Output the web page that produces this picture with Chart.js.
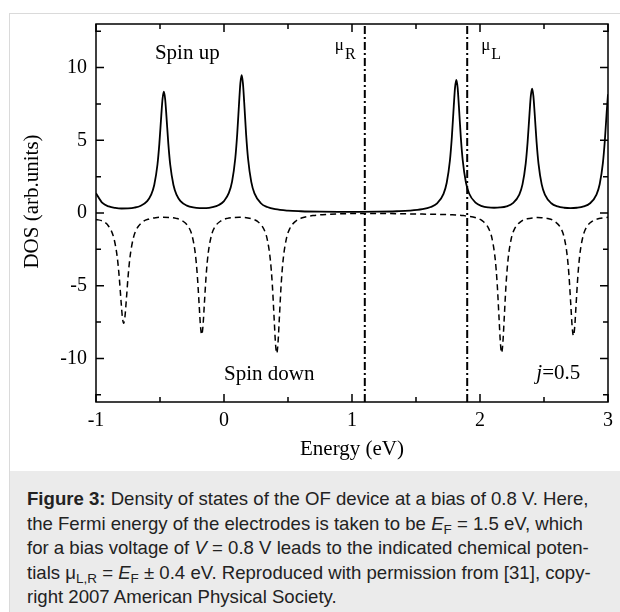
<!DOCTYPE html>
<html>
<head>
<meta charset="utf-8">
<script src="https://cdn.jsdelivr.net/npm/chart.js@4.4.1/dist/chart.umd.min.js"></script>
<style>
  html, body { margin: 0; padding: 0; background: #fff; }
  body { width: 620px; height: 612px; position: relative; overflow: hidden; }
  #frame { position: absolute; left: 9px; top: 13px; width: 640px; height: 640px;
           border-top: 1px solid #dadada; border-left: 1px solid #dadada; }
  #plot { position: absolute; left: 0; top: 0; width: 620px; height: 470px; }
  #caption { position: absolute; left: 10px; top: 471px; width: 610px; height: 141px;
             box-sizing: border-box; padding: 16px 0 0 17px; background: #ebebeb;
             font-family: Arial, "Liberation Sans", sans-serif; font-size: 18.6px;
             line-height: 24.5px; color: #222; white-space: nowrap; }
  #caption sub { font-size: 13.5px; vertical-align: -4px; line-height: 0; }
</style>
</head>
<body>
<div id="frame"></div>
<div id="plot"><canvas id="dos"></canvas></div>
<div id="caption"><b>Figure 3:</b> Density of states of the OF device at a bias of 0.8 V. Here,<br>the Fermi energy of the electrodes is taken to be <i>E</i><sub>F</sub> = 1.5 eV, which<br>for a bias voltage of <i>V</i> = 0.8 V leads to the indicated chemical poten-<br>tials μ<sub>L,R</sub> = <i>E</i><sub>F</sub> ± 0.4 eV. Reproduced with permission from [31], copy-<br>right 2007 American Physical Society.</div>
<script>
// spin-up DOS (solid curve)
const upEnergy = [-1.00, -0.95, -0.90, -0.85, -0.80, -0.75, -0.70, -0.65, -0.60, -0.57,
  -0.545, -0.52, -0.505, -0.49, -0.48, -0.47, -0.46, -0.45, -0.435, -0.42,
  -0.395, -0.37, -0.34, -0.29, -0.24, -0.19, -0.14, -0.09, -0.04, 0.00,
  0.038, 0.063, 0.088, 0.103, 0.118, 0.128, 0.138, 0.148, 0.158, 0.173,
  0.188, 0.213, 0.238, 0.288, 0.338, 0.40, 0.50, 0.60, 0.75, 0.90,
  1.05, 1.20, 1.35, 1.45, 1.55, 1.615, 1.665, 1.715, 1.74, 1.765,
  1.78, 1.795, 1.805, 1.815, 1.825, 1.835, 1.85, 1.865, 1.89, 1.915,
  1.965, 2.015, 2.065, 2.11, 2.157, 2.207, 2.257, 2.307, 2.332, 2.357,
  2.372, 2.387, 2.397, 2.407, 2.417, 2.427, 2.442, 2.457, 2.482, 2.507,
  2.557, 2.607, 2.657, 2.707, 2.757, 2.81, 2.86, 2.91, 2.935, 2.96,
  2.975, 2.99, 3.00];
const upDos = [1.36, 0.69, 0.45, 0.35, 0.31, 0.32, 0.37, 0.50, 0.82, 1.24,
  1.93, 3.32, 4.77, 6.70, 7.86, 8.35, 7.86, 6.70, 4.77, 3.32,
  1.93, 1.24, 0.82, 0.51, 0.38, 0.34, 0.34, 0.40, 0.55, 0.82,
  1.38, 2.16, 3.75, 5.40, 7.60, 8.93, 9.48, 8.91, 7.58, 5.38,
  3.73, 2.14, 1.35, 0.67, 0.41, 0.26, 0.16, 0.12, 0.09, 0.08,
  0.08, 0.09, 0.12, 0.16, 0.26, 0.41, 0.66, 1.32, 2.08, 3.61,
  5.21, 7.34, 8.62, 9.16, 8.64, 7.36, 5.23, 3.63, 2.10, 1.34,
  0.71, 0.47, 0.38, 0.36, 0.38, 0.46, 0.68, 1.27, 1.97, 3.40,
  4.88, 6.86, 8.05, 8.55, 8.05, 6.86, 4.88, 3.40, 1.97, 1.27,
  0.67, 0.45, 0.36, 0.33, 0.36, 0.45, 0.67, 1.27, 1.98, 3.43,
  4.95, 6.96, 8.17];

// spin-down DOS (dashed curve, plotted negative)
const downEnergy = [-1.00, -0.95, -0.90, -0.86, -0.834, -0.819, -0.804, -0.794, -0.784, -0.774,
  -0.764, -0.749, -0.734, -0.709, -0.684, -0.634, -0.584, -0.534, -0.479, -0.424,
  -0.374, -0.324, -0.274, -0.249, -0.224, -0.209, -0.194, -0.184, -0.174, -0.164,
  -0.154, -0.139, -0.124, -0.099, -0.074, -0.024, 0.026, 0.076, 0.119, 0.162,
  0.212, 0.262, 0.312, 0.337, 0.362, 0.377, 0.392, 0.402, 0.412, 0.422,
  0.432, 0.447, 0.462, 0.487, 0.512, 0.562, 0.612, 0.70, 0.82, 0.95,
  1.10, 1.30, 1.50, 1.65, 1.77, 1.87, 1.969, 2.019, 2.069, 2.094,
  2.119, 2.134, 2.149, 2.159, 2.169, 2.179, 2.189, 2.204, 2.219, 2.244,
  2.269, 2.319, 2.369, 2.419, 2.45, 2.48, 2.53, 2.58, 2.63, 2.655,
  2.68, 2.695, 2.71, 2.72, 2.73, 2.74, 2.75, 2.765, 2.78, 2.805,
  2.83, 2.88, 2.93, 3.00];
const downDos = [-0.45, -0.55, -0.93, -1.75, -3.04, -4.36, -6.10, -7.16, -7.59, -7.15,
  -6.09, -4.33, -3.01, -1.75, -1.13, -0.60, -0.41, -0.32, -0.29, -0.31,
  -0.37, -0.54, -1.00, -1.57, -2.81, -4.23, -6.33, -7.75, -8.37, -7.75,
  -6.33, -4.23, -2.81, -1.57, -1.00, -0.54, -0.37, -0.31, -0.30, -0.31,
  -0.39, -0.58, -1.12, -1.78, -3.22, -4.86, -7.30, -8.94, -9.66, -8.93,
  -7.30, -4.86, -3.22, -1.78, -1.11, -0.55, -0.33, -0.17, -0.09, -0.05,
  -0.03, -0.04, -0.07, -0.09, -0.12, -0.18, -0.33, -0.54, -1.09, -1.76,
  -3.19, -4.83, -7.26, -8.89, -9.62, -8.89, -7.27, -4.84, -3.21, -1.77,
  -1.11, -0.59, -0.40, -0.33, -0.31, -0.32, -0.38, -0.55, -1.02, -1.59,
  -2.85, -4.28, -6.40, -7.82, -8.45, -7.82, -6.40, -4.28, -2.85, -1.59,
  -1.01, -0.55, -0.38, -0.30];

// chemical potentials of the leads, E_F -/+ 0.4 eV
const muR = 1.1;
const muL = 1.9;

const serif = "'Liberation Serif', 'Times New Roman', serif";
Chart.defaults.font.family = serif;
Chart.defaults.font.size = 20;
Chart.defaults.color = '#000';

const toPoints = (xs, ys) => xs.map((x, i) => ({ x: x, y: ys[i] }));

// box, inward ticks on all four sides and the in-plot labels
const plotFrame = {
  id: 'plotFrame',
  afterDraw(chart) {
    const { ctx, chartArea: area } = chart;
    const xs = chart.scales.x, ys = chart.scales.y;
    ctx.save();
    ctx.strokeStyle = '#000';
    ctx.lineWidth = 1.5;
    ctx.strokeRect(area.left, area.top, area.right - area.left, area.bottom - area.top);
    ctx.beginPath();
    xs.ticks.forEach(t => {
      const px = xs.getPixelForValue(t.value);
      const len = Number.isInteger(t.value) ? 8 : 5;
      ctx.moveTo(px, area.bottom); ctx.lineTo(px, area.bottom - len);
      ctx.moveTo(px, area.top); ctx.lineTo(px, area.top + len);
    });
    ys.ticks.forEach(t => {
      const py = ys.getPixelForValue(t.value);
      const len = t.value % 5 === 0 ? 8 : 5;
      ctx.moveTo(area.left, py); ctx.lineTo(area.left + len, py);
      ctx.moveTo(area.right, py); ctx.lineTo(area.right - len, py);
    });
    ctx.stroke();

    ctx.fillStyle = '#000';
    ctx.textBaseline = 'alphabetic';
    ctx.textAlign = 'left';
    ctx.font = '21px ' + serif;
    ctx.fillText('Spin up', xs.getPixelForValue(-0.54), ys.getPixelForValue(10.6));
    ctx.fillText('Spin down', xs.getPixelForValue(0.0), ys.getPixelForValue(-11.5));

    let jx = xs.getPixelForValue(2.44);
    const jy = ys.getPixelForValue(-11.45);
    ctx.font = 'italic 21px ' + serif;
    ctx.fillText('j', jx, jy);
    jx += ctx.measureText('j').width;
    ctx.font = '21px ' + serif;
    ctx.fillText('=0.5', jx, jy);

    const drawMu = (sub, left) => {
      ctx.font = '17px ' + serif;
      ctx.fillText('μ', left, area.top + 26);
      const w = ctx.measureText('μ').width;
      ctx.font = '16px ' + serif;
      ctx.fillText(sub, left + w + 1, area.top + 35);
    };
    drawMu('R', xs.getPixelForValue(muR) - 30);
    drawMu('L', xs.getPixelForValue(muL) + 14);

    ctx.translate(38, (area.top + area.bottom) / 2 - 11.5);
    ctx.rotate(-Math.PI / 2);
    ctx.textAlign = 'center';
    ctx.font = '21px ' + serif;
    ctx.fillText('DOS (arb.units)', 0, 0);
    ctx.restore();
  }
};

new Chart(document.getElementById('dos'), {
  type: 'line',
  data: {
    datasets: [
      {
        label: 'Spin up',
        data: toPoints(upEnergy, upDos),
        borderColor: '#000',
        borderWidth: 1.8,
        pointRadius: 0,
        cubicInterpolationMode: 'monotone'
      },
      {
        label: 'Spin down',
        data: toPoints(downEnergy, downDos),
        borderColor: '#000',
        borderWidth: 1.5,
        borderDash: [6, 4],
        pointRadius: 0,
        cubicInterpolationMode: 'monotone'
      },
      {
        label: 'mu R',
        data: [{ x: muR, y: -13 }, { x: muR, y: 13 }],
        borderColor: '#000',
        borderWidth: 2,
        borderDash: [8, 3, 2, 3],
        pointRadius: 0
      },
      {
        label: 'mu L',
        data: [{ x: muL, y: -13 }, { x: muL, y: 13 }],
        borderColor: '#000',
        borderWidth: 2,
        borderDash: [8, 3, 2, 3],
        pointRadius: 0
      }
    ]
  },
  options: {
    animation: false,
    responsive: true,
    maintainAspectRatio: false,
    layout: { padding: { top: 24, right: 8, left: 0, bottom: 0 } },
    plugins: { legend: { display: false }, tooltip: { enabled: false } },
    scales: {
      x: {
        type: 'linear',
        min: -1,
        max: 3,
        afterFit: s => { s.height = 68; },
        grid: { display: false, drawTicks: false },
        border: { display: false },
        ticks: {
          stepSize: 0.5,
          maxTicksLimit: 50,
          includeBounds: false,
          autoSkip: false,
          maxRotation: 0,
          padding: 7,
          callback: v => Number.isInteger(v) ? String(v) : ''
        },
        title: { display: true, text: 'Energy (eV)', font: { size: 21 }, padding: { top: 0, bottom: 8 } }
      },
      y: {
        type: 'linear',
        min: -13,
        max: 13,
        afterFit: s => { s.width = 96; },
        grid: { display: false, drawTicks: false },
        border: { display: false },
        ticks: {
          stepSize: 2.5,
          maxTicksLimit: 50,
          includeBounds: false,
          autoSkip: false,
          padding: 9,
          callback: v => v % 5 === 0 ? String(v) : ''
        }
      }
    }
  },
  plugins: [plotFrame]
});
</script>
</body>
</html>
